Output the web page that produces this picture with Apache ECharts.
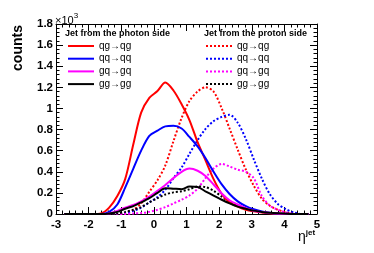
<!DOCTYPE html>
<html>
<head>
<meta charset="utf-8">
<script src="https://cdn.jsdelivr.net/npm/echarts@6/dist/echarts.min.js"></script>
<style>
html,body{margin:0;padding:0;background:#fff;}
#c{width:374px;height:253px;}
</style>
</head>
<body>
<div id="c"></div>
<script>
// eta^jet sample positions (where values were read)
const eta = [-2.75,-1.86,-1.62,-1.37,-1.12,-0.88,-0.63,-0.39,-0.14,0.11,0.35,0.6,0.85,1.09,1.34,1.58,1.83,2.08,2.32,2.57,2.82,3.06,3.31,3.55,3.8,4.05,4.29,4.54,4.74];
// Jet from the photon side (solid)
const photonQG = [0,0,5,60,170,330,660,960,1100,1165,1245,1170,1040,890,680,510,330,190,110,70,40,25,15,8,4,2,0,0,0];
const photonQQ = [0,0,0,20,90,250,430,600,740,790,830,835,810,730,640,530,400,280,190,120,75,45,25,12,5,2,0,0,0];
const photonGQ = [0,0,0,5,30,60,85,120,165,220,275,340,400,430,410,360,280,195,130,90,55,30,18,10,4,0,0,0,0];
const photonGG = [0,0,0,5,20,50,75,110,150,200,245,240,235,260,255,215,175,135,100,70,50,32,20,12,6,2,0,0,0];
// Jet from the proton side (dotted)
const protonQG = [0,0,0,0,0,10,40,100,210,320,460,690,910,1070,1160,1200,1160,1000,810,610,420,270,145,80,40,15,5,0,0];
const protonQQ = [0,0,0,0,0,10,30,60,110,160,230,340,440,570,700,805,880,920,940,865,710,520,335,190,95,45,15,0,0];
const protonGQ = [0,0,0,0,0,0,5,10,20,40,65,100,135,175,240,340,430,475,450,420,400,340,170,80,40,15,0,0,0];
const protonGG = [0,0,0,0,5,20,40,65,110,150,185,205,215,235,260,255,220,165,115,80,50,30,18,10,5,0,0,0,0];

const procLabels = ['qg\u2192qg','qq\u2192qq','gq\u2192gq','gg\u2192gg'];
const colors = ['#ff0000','#0000ff','#ff00ff','#000000'];
const yTicks = [0,200,400,600,800,1000,1200,1400,1600,1800];

const photonSets = [photonQG, photonQQ, photonGQ, photonGG];
const protonSets = [protonQG, protonQQ, protonGQ, protonGG];

const nameMap = {};
const series = [];
function mk(id, vals, color, dotted, label){
  nameMap[id] = label;
  series.push({
    name: id, type: 'line', symbol: 'none', smooth: 0.3, clip: true,
    data: eta.map((x,i)=>[x, vals[i]]),
    lineStyle: {color: color, width: 2, type: dotted ? [2,2] : 'solid'},
    itemStyle: {color: color},
    emphasis: {disabled: true}
  });
}
protonSets.forEach((v,i)=>mk('p'+i, v, colors[i], true, procLabels[i]));
photonSets.forEach((v,i)=>mk('g'+i, v, colors[i], false, procLabels[i]));

const FONT = 'Liberation Sans, Arial, Helvetica, sans-serif';
const tickCommon = {inside: true, length: 7, lineStyle: {color: '#000', width: 1}};
const minorCommon = {show: true, splitNumber: 5, length: 3.5, lineStyle: {color: '#000', width: 1}};
const lineCommon = {show: true, onZero: false, lineStyle: {color: '#000', width: 1}};

const legendCommon = {
  orient: 'vertical', top: 41, padding: 0,
  itemWidth: 26, itemHeight: 10, itemGap: 2.7, selectedMode: false,
  itemStyle: {opacity: 0, borderWidth: 0},
  formatter: n => nameMap[n],
  textStyle: {color: '#000', fontFamily: FONT, fontSize: 10}
};

const chart = echarts.init(document.getElementById('c'), null, {renderer: 'canvas'});
chart.setOption({
  animation: false,
  backgroundColor: '#fff',
  grid: {left: 56, right: 57, top: 24, bottom: 39, containLabel: false},
  xAxis: [{
    type: 'value', min: -3, max: 5, interval: 1, position: 'bottom',
    axisLine: lineCommon, axisTick: tickCommon, minorTick: minorCommon,
    splitLine: {show: false},
    axisLabel: {color: '#000', fontFamily: FONT, fontWeight: 'bold', fontSize: 11.5, margin: 5}
  },{
    type: 'value', min: -3, max: 5, interval: 1, position: 'top',
    axisLine: lineCommon, axisTick: tickCommon, minorTick: minorCommon,
    splitLine: {show: false}, axisLabel: {show: false}
  }],
  yAxis: [{
    type: 'value', min: 0, max: 1800, interval: 200, position: 'left',
    axisLine: lineCommon, axisTick: tickCommon, minorTick: minorCommon,
    splitLine: {show: false},
    axisLabel: {color: '#000', fontFamily: FONT, fontWeight: 'bold', fontSize: 11.5, margin: 3,
      formatter: v => yTicks.includes(v) ? String(+(v/1000).toFixed(1)) : ''}
  },{
    type: 'value', min: 0, max: 1800, interval: 200, position: 'right',
    axisLine: lineCommon, axisTick: tickCommon, minorTick: minorCommon,
    splitLine: {show: false}, axisLabel: {show: false}
  }],
  legend: [
    Object.assign({}, legendCommon, {data: ['g0','g1','g2','g3'], left: 67}),
    Object.assign({}, legendCommon, {data: ['p0','p1','p2','p3'], left: 205})
  ],
  graphic: [
    {type: 'text', left: 65, top: 29, style: {text: 'Jet from the photon side', fill: '#000', font: 'bold 9px ' + FONT}},
    {type: 'text', left: 204, top: 29, style: {text: 'Jet from the proton side', fill: '#000', font: 'bold 9px ' + FONT}},
    {type: 'text', left: 55, top: 12, style: {
      text: '{a|\u00d710}{b|3}', rich: {
        a: {font: '11px ' + FONT, fill: '#000', verticalAlign: 'bottom'},
        b: {font: '8px ' + FONT, fill: '#000', verticalAlign: 'top', padding: [0,0,6,0]}
      }}},
    {type: 'text', x: 18, y: 48, rotation: Math.PI/2,
      style: {text: 'counts', fill: '#000', font: 'bold 14px ' + FONT, align: 'center', verticalAlign: 'middle'}},
    {type: 'text', left: 298, top: 229, style: {
      text: '{e|\u03b7}{j|jet}', rich: {
        e: {font: '14px ' + FONT, fill: '#000'},
        j: {font: 'bold 8px ' + FONT, fill: '#000', padding: [0,0,9,0]}
      }}}
  ],
  series: series
});
</script>
</body>
</html>
